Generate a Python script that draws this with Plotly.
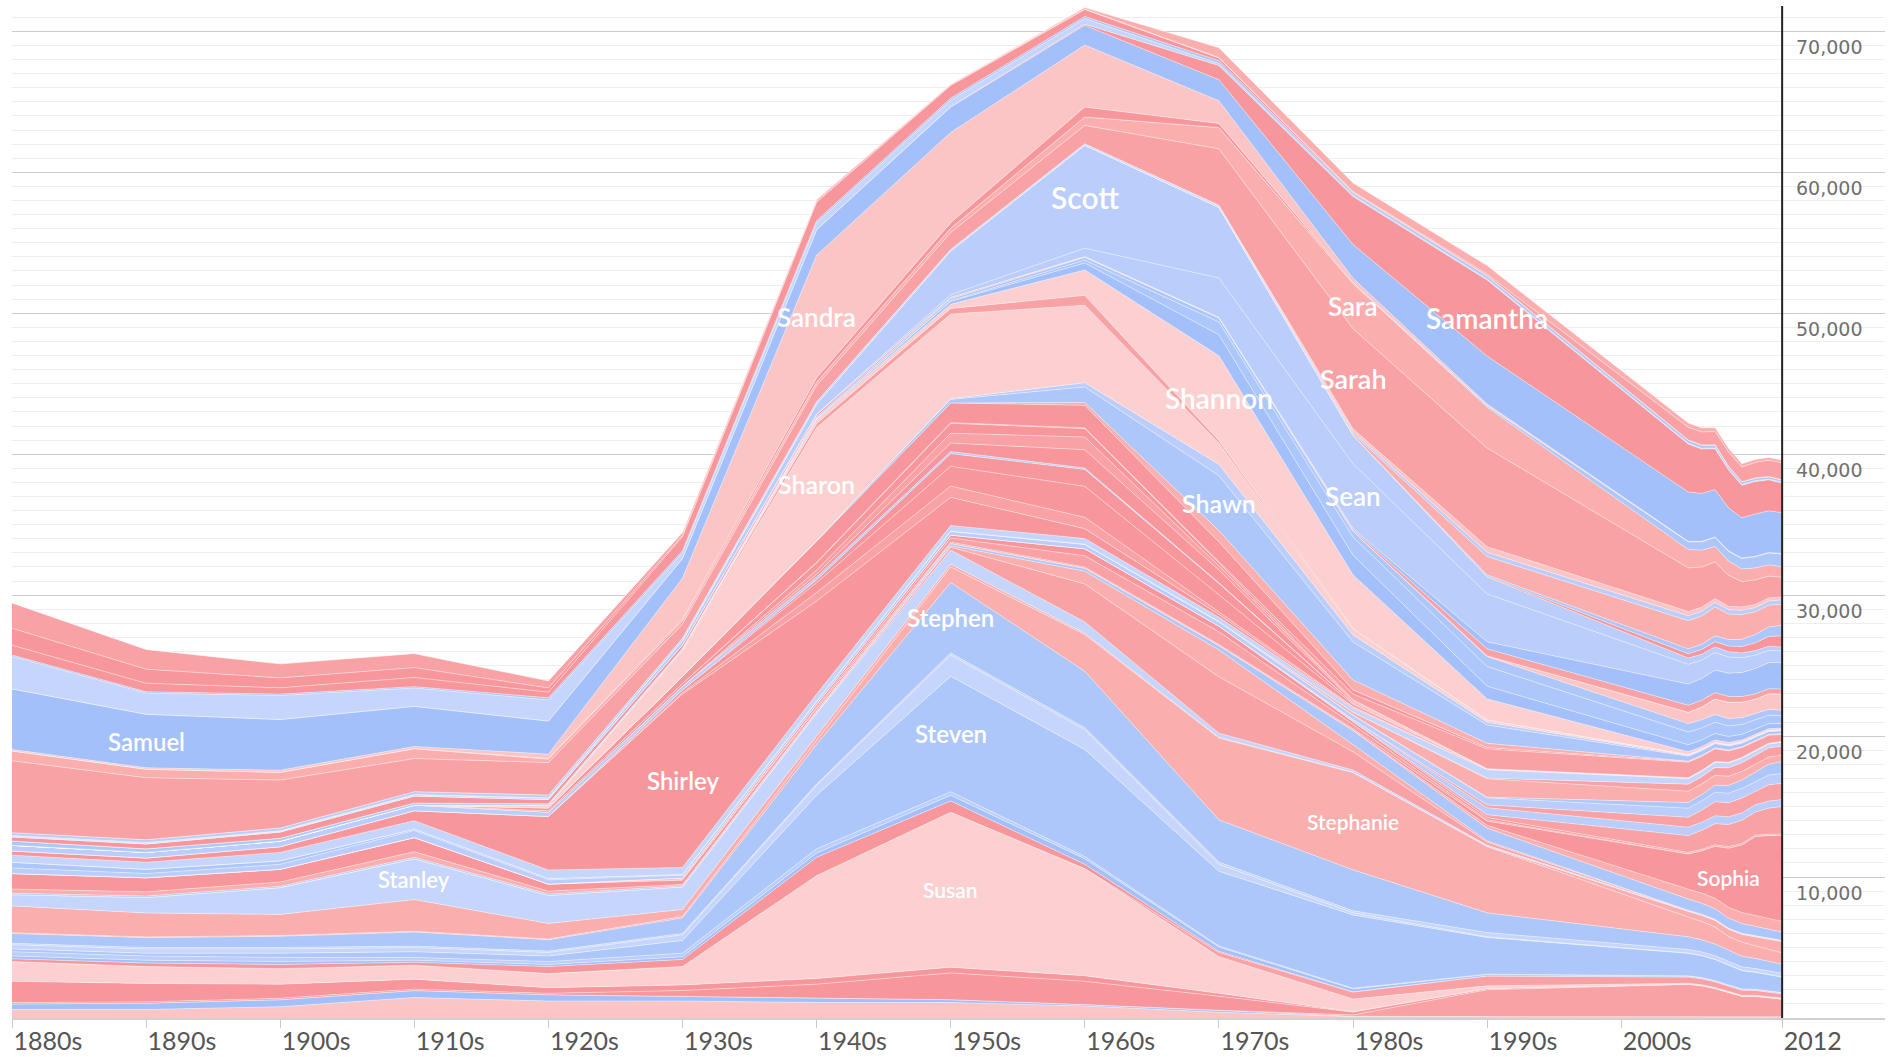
import plotly.graph_objects as go

# ---------------- data ----------------
years = [1880, 1890, 1900, 1910, 1920, 1930, 1940, 1950, 1960, 1970,
         1980, 1990, 2005, 2006, 2007, 2008, 2009, 2010, 2011, 2012]
tick_years = [1880, 1890, 1900, 1910, 1920, 1930, 1940, 1950, 1960,
              1970, 1980, 1990, 2000, 2012]
tick_labels = ["1880s", "1890s", "1900s", "1910s", "1920s", "1930s", "1940s",
               "1950s", "1960s", "1970s", "1980s", "1990s", "2000s", "2012"]
y_ticks = [10000, 20000, 30000, 40000, 50000, 60000, 70000]
y_tick_labels = ["10,000", "20,000", "30,000", "40,000", "50,000", "60,000", "70,000"]

# babies per million, decades 1880-1990 then 2005-2012
sabrina   = [0,0,0,0,0,0,0,0,100,700,600,600, 300,290,270,250,230,210,200,190]
sadie     = [1800,1400,1000,1000,500,200,120,60,30,20,30,100, 900,920,950,1000,1050,1100,1150,1200]
sallie    = [1200,1000,700,700,300,100,60,20,0,0,0,0, 0,0,0,0,0,0,0,0]
sally     = [700,600,450,650,400,1000,1300,900,500,200,80,40, 30,30,30,30,30,30,30,30]
salvador  = [100,100,100,100,150,150,150,150,150,200,150,200, 200,200,190,180,170,160,150,150]
sam       = [2300,1500,1700,1300,1500,400,500,450,400,150,100,80, 60,60,60,60,60,60,60,60]
samantha  = [0,0,0,0,0,0,0,30,80,1000,3400,5400, 3400,3150,2900,2700,2300,2300,2200,2100]
samuel    = [4300,3800,3600,2850,2350,1400,1800,1800,1400,1500,2400,3400, 3500,3400,3350,3050,2850,3000,2950,2900]
sandra    = [100,100,150,150,300,2900,8700,6400,4400,1600,300,100, 30,30,30,30,30,30,30,30]
sandy     = [0,0,0,0,50,100,300,400,700,300,60,20, 0,0,0,0,0,0,0,0]
santiago  = [0,0,0,0,0,0,0,0,0,0,20,100, 550,600,650,700,750,800,850,900]
sara      = [700,600,550,700,250,250,250,300,600,1500,3200,2900, 1300,1200,1100,1000,900,850,800,750]
sarah     = [5100,4400,3400,2350,2300,1000,1150,1200,1300,4000,7100,7000, 3100,2850,2600,2200,1800,1750,1550,1400]
sasha     = [0,0,0,0,0,0,0,0,0,50,200,400, 300,280,260,240,230,220,210,200]
saul      = [200,200,200,200,200,150,150,100,100,100,150,300, 350,340,330,320,310,300,300,300]
savannah  = [0,0,0,0,0,0,0,0,0,0,100,1300, 2000,2000,2050,1800,1750,1600,1550,1500]
sawyer    = [50,50,30,30,20,20,10,10,10,10,20,100, 350,380,420,470,520,600,680,750]
scarlett  = [0,0,0,0,0,0,0,0,0,0,0,50, 300,330,360,400,450,550,680,800]
scott     = [50,50,50,80,100,300,700,3100,7300,5000,2000,1200, 450,420,400,370,340,320,300,280]
sean      = [0,0,0,0,0,0,50,200,600,2800,4600,3400, 1400,1300,1250,1150,1050,950,870,800]
sebastian = [0,0,0,0,0,0,0,0,0,30,100,500, 1500,1550,1600,1650,1700,1800,1850,1900]
selena    = [0,0,0,0,0,0,0,0,0,0,100,500, 500,480,450,420,400,380,360,350]
selma     = [300,350,450,500,300,250,150,80,50,0,0,0, 0,0,0,0,0,0,0,0]
serenity  = [0,0,0,0,0,0,0,0,0,0,0,50, 800,900,1100,1150,1100,1000,1100,1150]
sergio    = [0,0,0,0,0,50,100,150,200,300,400,700, 600,580,550,520,480,450,420,400]
seth      = [300,250,200,150,100,50,30,50,200,900,1300,1400, 900,850,800,750,700,650,600,550]
shane     = [0,0,0,0,0,0,50,200,500,1500,1400,900, 500,480,460,430,400,380,350,330]
shannon   = [0,0,0,0,0,0,300,300,1800,6000,3800,1500, 200,180,160,150,140,130,120,110]
shari     = [0,0,0,0,0,100,300,400,700,200,50,0, 0,0,0,0,0,0,0,0]
sharon    = [0,0,0,0,200,1800,8000,6000,5500,1500,400,150, 60,55,50,50,45,45,40,40]
shaun     = [0,0,0,0,0,0,0,50,300,800,500,200, 60,55,50,50,45,40,40,40]
shawn     = [0,0,0,0,0,0,50,250,1100,3900,2700,1300, 350,330,300,280,250,230,210,190]
shawna    = [0,0,0,0,0,0,0,0,200,800,700,300, 30,30,30,30,30,30,30,30]
sheila    = [0,0,0,0,200,500,1500,1400,1600,1400,300,100, 40,40,35,35,30,30,30,30]
shelby    = [0,0,0,0,0,0,50,50,50,100,400,1400, 1100,1000,900,800,700,620,560,500]
shelia    = [0,0,0,0,100,200,500,700,600,200,50,0, 0,0,0,0,0,0,0,0]
shelley   = [0,0,0,0,0,0,300,700,900,300,80,0, 0,0,0,0,0,0,0,0]
shelly    = [0,0,0,0,0,0,200,600,1300,900,100,0, 20,20,20,20,20,20,20,20]
sherman   = [400,400,400,400,300,250,200,150,100,50,20,0, 0,0,0,0,0,0,0,0]
sherri    = [0,0,0,0,0,0,200,900,1200,800,80,0, 0,0,0,0,0,0,0,0]
sherry    = [0,0,0,0,0,200,700,1400,2200,1200,150,50, 20,20,20,20,20,20,20,20]
sheryl    = [0,0,0,0,0,100,600,800,800,200,50,0, 0,0,0,0,0,0,0,0]
shirley   = [300,300,400,700,3800,12300,6600,2000,700,200,50,20, 20,20,20,20,20,20,20,20]
sidney    = [500,500,600,600,600,500,500,400,400,300,300,600, 400,380,360,340,320,300,280,260]
sienna    = [0,0,0,0,0,0,0,0,0,0,0,50, 500,520,560,600,620,640,650,650]
sierra    = [0,0,0,0,0,0,0,0,0,0,200,1300, 800,750,700,650,600,550,500,450]
silas     = [400,300,250,100,100,50,30,30,30,30,30,50, 400,450,500,550,600,680,770,850]
simon     = [400,300,350,500,300,200,200,250,300,300,300,500, 650,660,670,680,690,700,700,700]
skylar    = [0,0,0,0,0,0,0,0,0,0,0,200, 700,850,1000,1000,1050,950,1150,1150]
skyler    = [0,0,0,0,0,0,0,0,0,0,100,500, 600,580,560,540,520,510,500,500]
sofia     = [0,0,0,0,0,0,0,0,0,0,50,200, 1200,1350,1500,1580,1650,1650,1850,1950]
sonia     = [0,0,0,0,0,100,200,200,500,400,200,150, 80,80,80,80,80,80,80,80]
sonya     = [0,0,0,0,0,50,100,300,800,900,300,100, 20,20,20,20,20,20,20,20]
sophia    = [1100,1000,900,1000,500,300,150,80,60,60,80,300, 2500,3000,3700,4200,4800,5600,5900,6100]
sophie    = [300,300,300,400,200,100,50,30,30,30,50,200, 700,720,740,760,780,780,760,750]
spencer   = [100,100,100,100,100,80,100,150,200,300,1000,900, 800,780,750,720,690,660,630,600]
stacey    = [0,0,0,0,0,0,0,100,900,1900,500,100, 0,0,0,0,0,0,0,0]
stacy     = [0,0,0,0,0,0,50,200,2700,4000,1300,200, 30,30,30,30,30,30,30,30]
stanley   = [800,1100,1900,2900,2000,1600,1600,1000,800,300,150,80, 50,50,50,50,50,50,50,50]
stella    = [1900,1700,1500,2250,1100,500,300,200,100,50,30,30, 400,430,470,500,550,620,700,800]
stephanie = [50,50,50,50,50,100,300,1100,2600,5800,6900,4700, 1400,1300,1200,1000,1000,900,850,800]
stephen   = [700,700,800,1000,800,1100,2800,5000,4000,3000,2900,1400, 900,860,830,790,750,720,680,650]
sterling  = [100,100,100,100,100,100,100,150,150,150,150,300, 250,250,250,250,250,250,250,250]
steve     = [300,300,300,300,250,400,700,1500,1400,500,150,50, 20,20,20,20,20,20,20,20]
steven    = [200,200,300,400,400,900,3800,8200,7600,5300,5200,2600, 1600,1550,1500,1400,1300,1200,1150,1100]
stewart   = [300,300,300,200,200,250,300,250,150,80,50,30, 20,20,20,20,20,20,20,20]
stuart    = [200,200,200,150,150,200,300,400,400,300,200,100, 60,60,60,60,60,60,60,60]
sue       = [200,250,300,200,500,500,1300,800,300,80,20,0, 0,0,0,0,0,0,0,0]
summer    = [0,0,0,0,0,0,0,0,0,300,500,700, 450,430,410,390,370,350,330,310]
susan     = [1400,1200,1100,1000,1000,1300,7300,11000,7600,2600,900,200, 60,60,60,60,60,60,60,60]
susie     = [1500,1300,1000,700,400,400,400,400,400,200,20,0, 0,0,0,0,0,0,0,0]
suzanne   = [100,100,100,100,100,400,1000,1900,1650,1000,200,80, 20,20,20,20,20,20,20,20]
sydney    = [0,0,0,0,0,0,0,0,0,0,100,1900, 2300,2200,2000,1700,1450,1450,1350,1250]
sylvester = [400,450,500,500,450,350,300,200,100,150,20,20, 0,0,0,0,0,0,0,0]
sylvia    = [600,600,800,1450,1200,1200,1100,1100,850,400,100,80, 80,80,80,80,80,80,80,80]

# stack order, top to bottom (alphabetical)
order = [
    ("Sabrina", sabrina), ("Sadie", sadie), ("Sallie", sallie), ("Sally", sally),
    ("Salvador", salvador), ("Sam", sam), ("Samantha", samantha), ("Samuel", samuel),
    ("Sandra", sandra), ("Sandy", sandy), ("Santiago", santiago), ("Sara", sara),
    ("Sarah", sarah), ("Sasha", sasha), ("Saul", saul), ("Savannah", savannah),
    ("Sawyer", sawyer), ("Scarlett", scarlett), ("Scott", scott), ("Sean", sean),
    ("Sebastian", sebastian), ("Selena", selena), ("Selma", selma), ("Serenity", serenity),
    ("Sergio", sergio), ("Seth", seth), ("Shane", shane), ("Shannon", shannon),
    ("Shari", shari), ("Sharon", sharon), ("Shaun", shaun), ("Shawn", shawn),
    ("Shawna", shawna), ("Sheila", sheila), ("Shelby", shelby), ("Shelia", shelia),
    ("Shelley", shelley), ("Shelly", shelly), ("Sherman", sherman), ("Sherri", sherri),
    ("Sherry", sherry), ("Sheryl", sheryl), ("Shirley", shirley), ("Sidney", sidney),
    ("Sienna", sienna), ("Sierra", sierra), ("Silas", silas), ("Simon", simon),
    ("Skylar", skylar), ("Skyler", skyler), ("Sofia", sofia), ("Sonia", sonia),
    ("Sonya", sonya), ("Sophia", sophia), ("Sophie", sophie), ("Spencer", spencer),
    ("Stacey", stacey), ("Stacy", stacy), ("Stanley", stanley), ("Stella", stella),
    ("Stephanie", stephanie), ("Stephen", stephen), ("Sterling", sterling), ("Steve", steve),
    ("Steven", steven), ("Stewart", stewart), ("Stuart", stuart), ("Sue", sue),
    ("Summer", summer), ("Susan", susan), ("Susie", susie), ("Suzanne", suzanne),
    ("Sydney", sydney), ("Sylvester", sylvester), ("Sylvia", sylvia),
]
assert all(len(v) == len(years) for _, v in order)

# ---------------- styles ----------------
palette = {
    "P1": "#f7969b", "P2": "#f9a2a5", "P3": "#fbaeae", "P4": "#fbc4c5", "P5": "#fcd0d0",
    "B1": "#a4c0fa", "B2": "#adc7fb", "B3": "#bacdfb", "B4": "#c6d5fb",
}
shade = {
    "Sabrina": "P3", "Sadie": "P2", "Sallie": "P1", "Sally": "P1", "Salvador": "B2",
    "Sam": "B4", "Samantha": "P1", "Samuel": "B1", "Sandra": "P4", "Sandy": "P1",
    "Santiago": "B2", "Sara": "P3", "Sarah": "P2", "Sasha": "P4", "Saul": "B3",
    "Savannah": "P3", "Sawyer": "B2", "Scarlett": "P1", "Scott": "B3", "Sean": "B3",
    "Sebastian": "B1", "Selena": "P2", "Selma": "P1", "Serenity": "P4", "Sergio": "B2",
    "Seth": "B2", "Shane": "B1", "Shannon": "P5", "Shari": "P2", "Sharon": "P5",
    "Shaun": "B3", "Shawn": "B2", "Shawna": "P3", "Sheila": "P1", "Shelby": "P2",
    "Shelia": "P1", "Shelley": "P2", "Shelly": "P1", "Sherman": "B3", "Sherri": "P1",
    "Sherry": "P1", "Sheryl": "P2", "Shirley": "P1", "Sidney": "B4", "Sienna": "P2",
    "Sierra": "P3", "Silas": "B2", "Simon": "B3", "Skylar": "P2", "Skyler": "B3",
    "Sofia": "P2", "Sonia": "P1", "Sonya": "P2", "Sophia": "P1", "Sophie": "P3",
    "Spencer": "B2", "Stacey": "P3", "Stacy": "P2", "Stanley": "B4", "Stella": "P3",
    "Stephanie": "P3", "Stephen": "B2", "Sterling": "B4", "Steve": "B4", "Steven": "B2",
    "Stewart": "B3", "Stuart": "B1", "Sue": "P1", "Summer": "P2", "Susan": "P5",
    "Susie": "P1", "Suzanne": "P1", "Sydney": "P2", "Sylvester": "B1", "Sylvia": "P4",
}
# (name, year where the label sits, font size)
labels = [
    ("Samuel", 1890, 24), ("Stanley", 1910, 22), ("Shirley", 1930, 24),
    ("Sandra", 1940, 26), ("Sharon", 1940, 25), ("Stephen", 1950, 24),
    ("Steven", 1950, 24), ("Susan", 1950, 21), ("Scott", 1960, 30),
    ("Shannon", 1970, 28), ("Shawn", 1970, 25), ("Sara", 1980, 26),
    ("Sarah", 1980, 27), ("Sean", 1980, 26), ("Stephanie", 1980, 21),
    ("Samantha", 1990, 28), ("Sophia", 2008, 21),
]

fig = go.Figure()
for name, vals in reversed(order):
    fig.add_trace(go.Scatter(
        x=years, y=vals, name=name, mode="lines", stackgroup="names",
        line=dict(width=0.8, color="rgba(255,255,255,0.5)"),
        fillcolor=palette[shade[name]],
        hovertemplate=name + ": %{y}<extra></extra>",
    ))

index_of = {n: i for i, (n, _) in enumerate(order)}


def band_mid(name, year):
    j = years.index(year)
    i = index_of[name]
    below = sum(v[j] for _, v in order[i + 1:])
    return below + order[i][1][j] / 2.0


for name, yr, size in labels:
    fig.add_annotation(
        x=yr, y=band_mid(name, yr), xref="x", yref="y", text=name,
        showarrow=False, xanchor="center", yanchor="middle",
        font=dict(family="Lato, Open Sans, sans-serif", size=size, color="white", weight=600),
    )

for v, t in zip(y_ticks, y_tick_labels):
    fig.add_annotation(
        x=2012, y=v, xref="x", yref="y", text=t, showarrow=False,
        xanchor="left", yanchor="top", xshift=12, yshift=-3,
        font=dict(family="DejaVu Sans, sans-serif", size=19, color="#707070"),
    )

fig.add_shape(type="line", x0=2012, x1=2012, y0=0, y1=1, xref="x", yref="paper",
              line=dict(color="#222222", width=2))

fig.update_layout(
    width=1893, height=1057,
    margin=dict(l=12, r=8, t=6, b=39, autoexpand=False),
    paper_bgcolor="white", plot_bgcolor="white",
    showlegend=False,
    xaxis=dict(
        range=[1880, 2019.67], tickmode="array", tickvals=tick_years, ticktext=tick_labels,
        ticklabelposition="outside right", ticks="outside", ticklen=8, tickcolor="#c8c8c8",
        automargin=False,
        showline=True, linecolor="#d0d0d0", linewidth=2, showgrid=False, zeroline=False,
        tickfont=dict(family="Lato, sans-serif", size=25, color="#555555"),
    ),
    yaxis=dict(
        range=[0, 71800], side="right", showticklabels=False, automargin=False,
        tickmode="linear", tick0=0, dtick=10000,
        showgrid=True, gridcolor="#cccccc", gridwidth=1, zeroline=False,
        minor=dict(dtick=1000, showgrid=True, gridcolor="#eeeeee", gridwidth=1),
    ),
)

fig.write_html("out.html", config={"displayModeBar": False},
               post_script="document.body.style.margin='0';document.body.style.overflow='hidden';")
